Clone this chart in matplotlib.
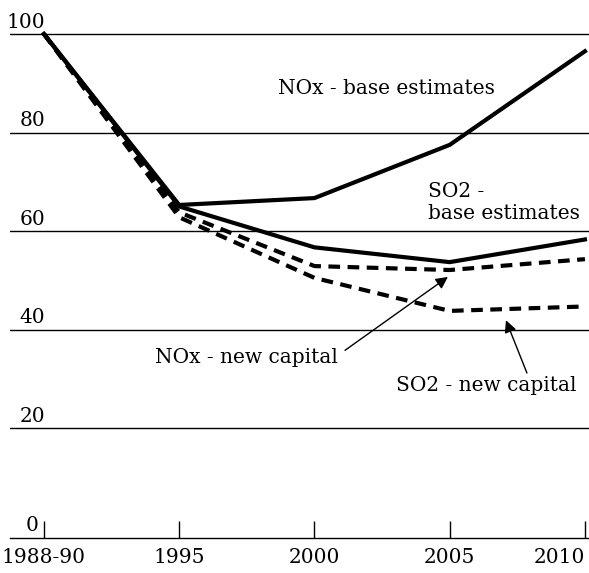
import matplotlib
matplotlib.use("Agg")
import matplotlib.pyplot as plt

# categories on the x axis
periodes = ["1988-90", "1995", "2000", "2005", "2010"]

# index values (1988-90 = 100)
nox_base = [100, 65.3, 66.7, 77.5, 96.5]
so2_base = [100, 65.0, 56.7, 53.7, 58.3]
nox_new_capital = [100, 63.8, 52.9, 52.1, 54.3]
so2_new_capital = [100, 62.8, 50.5, 43.8, 44.7]

grid_vals = [20, 40, 60, 80, 100]
ylabels = ["0", "20", "40", "60", "80", "100"]

plt.rcParams['font.family'] = ['DejaVu Serif']
fs = 14.5

fig = plt.figure(figsize=(5.89, 5.73), dpi=100)
ax = fig.add_axes([0.017, 0.061, 0.983, 0.939])

x = list(range(len(periodes)))
y_bottom = -2.3

# horizontal rules
for v in grid_vals:
    ax.axhline(v, color="black", lw=1.0, zorder=1)

dash = (2.8, 1.8)
ax.plot(x, so2_new_capital, color="black", lw=3, dashes=dash, zorder=2)
ax.plot(x, nox_new_capital, color="black", lw=3, dashes=dash, zorder=2)
ax.plot(x, so2_base, color="black", lw=3, solid_joinstyle="miter", zorder=3)
ax.plot(x, nox_base, color="black", lw=3, solid_joinstyle="miter", zorder=3)

ax.set_xlim(-0.251, 4.03)
ax.set_ylim(y_bottom, 106.9)

ax.set_xticks(x)
ax.set_xticklabels(periodes, fontsize=fs)
ax.get_xticklabels()[-1].set_horizontalalignment("right")
ax.tick_params(axis="x", direction="in", length=12, width=1, pad=7)
ax.set_yticks([])

for side in ["top", "right", "left"]:
    ax.spines[side].set_visible(False)
ax.spines["bottom"].set_linewidth(1.0)

# y labels sit just above each rule, right aligned near the first tick
for lab in ylabels:
    v = float(lab)
    if v == 0:
        ax.text(-0.04, y_bottom + 0.6, lab, ha="right", va="bottom", fontsize=fs)
    else:
        ax.text(0.007, v + 0.5, lab, ha="right", va="bottom", fontsize=fs)

ax.text(1.73, 89.0, "NOx - base estimates", ha="left", va="center", fontsize=fs)
ax.text(2.84, 65.7, "SO2 -\nbase estimates", ha="left", va="center",
        fontsize=fs, linespacing=1.2)
ax.text(0.82, 34.4, "NOx - new capital", ha="left", va="center", fontsize=fs)
ax.text(2.60, 28.7, "SO2 - new capital", ha="left", va="center", fontsize=fs)

arrow = dict(arrowstyle="-|>", color="black", lw=1, mutation_scale=18,
             shrinkA=0, shrinkB=0)
ax.annotate("", xy=(2.987, 50.7), xytext=(2.226, 35.8), arrowprops=arrow)
ax.annotate("", xy=(3.416, 41.9), xytext=(3.571, 31.2), arrowprops=arrow)

plt.savefig("out.png", dpi=100)
